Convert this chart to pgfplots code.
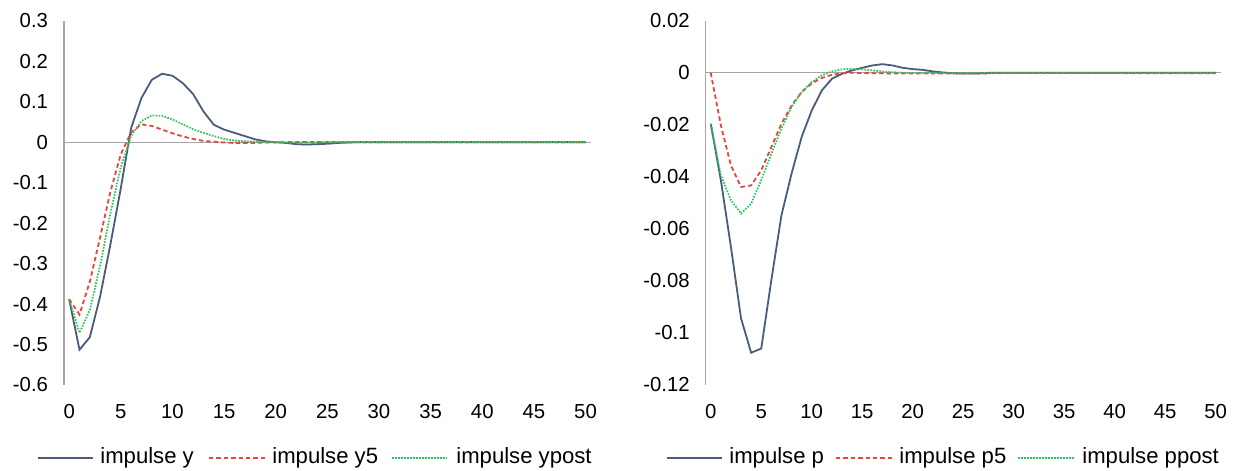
\documentclass[border=0pt]{standalone}
\usepackage{fontspec}
\setmainfont{Liberation Sans}
\usepackage{pgfplots}
\usepackage{pgfplotstable}
\pgfplotsset{compat=1.18}

\definecolor{cY}{HTML}{4B5B7A}
\definecolor{cR}{HTML}{E8443C}
\definecolor{cG}{HTML}{2CC463}
\definecolor{axgray}{HTML}{A6A6A6}

% left panel: t, y, y5, ypost
\pgfplotstableread{
t  y       y5      ypost
0  -0.388  -0.388  -0.388
1  -0.513  -0.426  -0.471
2  -0.482  -0.345  -0.415
3  -0.381  -0.235  -0.305
4  -0.252  -0.122  -0.175
5  -0.114  -0.030  -0.062
6   0.035   0.024   0.016
7   0.109   0.044   0.052
8   0.154   0.040   0.066
9   0.169   0.031   0.065
10  0.164   0.022   0.056
11  0.146   0.014   0.044
12  0.119   0.008   0.032
13  0.076   0.003   0.023
14  0.043   0.001   0.015
15  0.031  -0.001   0.008
16  0.023  -0.002   0.004
17  0.015  -0.002   0.002
18  0.007  -0.002   0.001
19  0.002  -0.001   0.000
20  0.000  -0.001   0.000
21 -0.002   0.000  -0.001
22 -0.005   0.000  -0.001
23 -0.006   0.000  -0.001
24 -0.005   0.000  -0.001
25 -0.004   0.000   0.000
26 -0.002   0.000   0.000
27 -0.001   0.000   0.000
28  0.000   0.000   0.000
30  0.000   0.000   0.000
35  0.000   0.000   0.000
40  0.000   0.000   0.000
45  0.000   0.000   0.000
50  0.000   0.000   0.000
}\leftdata

% right panel: t, p, p5, ppost
\pgfplotstableread{
t  p        p5       ppost
0  -0.0196   0.0000  -0.0196
1  -0.0413  -0.0202  -0.0394
2  -0.0670  -0.0356  -0.0490
3  -0.0944  -0.0439  -0.0541
4  -0.1076  -0.0433  -0.0503
5  -0.1060  -0.0375  -0.0413
6  -0.0797  -0.0286  -0.0311
7  -0.0548  -0.0196  -0.0215
8  -0.0388  -0.0126  -0.0132
9  -0.0247  -0.0074  -0.0074
10 -0.0145  -0.0041  -0.0036
11 -0.0068  -0.0020  -0.0010
12 -0.0023  -0.0008   0.0005
13 -0.0004  -0.0002   0.0013
14  0.0009   0.0000   0.0015
15  0.0019  -0.0001   0.0013
16  0.0028  -0.0002   0.0009
17  0.0033  -0.0002   0.0005
18  0.0028  -0.0003   0.0002
19  0.0019  -0.0003   0.0000
20  0.0014  -0.0003  -0.0001
21  0.0011  -0.0003  -0.0001
22  0.0005  -0.0003  -0.0001
23  0.0001  -0.0003  -0.0001
24 -0.0002  -0.0003  -0.0001
25 -0.0003  -0.0003  -0.0001
26 -0.0003  -0.0003   0.0000
27 -0.0002  -0.0003   0.0000
28  0.0000  -0.0002   0.0000
30  0.0000  -0.0001   0.0000
35  0.0000  -0.0001   0.0000
40  0.0000  -0.0001   0.0000
42  0.0000  -0.0002   0.0000
45  0.0000  -0.0002   0.0000
50  0.0000  -0.0002   0.0000
}\rightdata

\tikzset{
  sY/.style={draw=cY, line width=0.9bp},
  sR/.style={draw=cR, line width=0.9bp, dash pattern=on 2.2bp off 1.5bp},
  sG/.style={draw=cG, line width=0.9bp, dash pattern=on 0.8bp off 0.7bp},
  legtext/.style={anchor=west, inner sep=0pt, font=\fontsize{11.1}{13}\selectfont},
}

\pgfplotsset{
  panel/.style={
    scale only axis,
    axis lines*=left,
    x axis line style={draw=none},
    y axis line style={axgray, line width=0.6bp},
    xmin=-0.5, xmax=50.5,
    xtick={0,5,...,50},
    xtick style={draw=none},
    ytick style={draw=none},
    scaled y ticks=false,
    tick label style={font=\fontsize{10.2}{12}\selectfont, /pgf/number format/assume math mode=true},
    yticklabel style={/pgf/number format/fixed, /pgf/number format/precision=2, xshift=-4.5bp},
    xticklabel style={anchor=base, yshift=-16.8bp},
    clip=false,
  },
}

\begin{document}
\begin{tikzpicture}
\path[use as bounding box] (0,0) rectangle (622bp,235.5bp);

\begin{axis}[panel,
  at={(32bp,43bp)}, anchor=south west,
  width=263.35bp, height=182.15bp,
  ymin=-0.6, ymax=0.3,
  ytick={-0.6,-0.5,-0.4,-0.3,-0.2,-0.1,0,0.1,0.2,0.3},
]
\addplot[forget plot, axgray, line width=0.6bp] coordinates {(-0.5,0) (50.5,0)};
\addplot[sY] table[x=t, y=y] {\leftdata};
\addplot[sR] table[x=t, y=y5] {\leftdata};
\addplot[sG] table[x=t, y=ypost] {\leftdata};
\end{axis}

\begin{axis}[panel,
  at={(352.85bp,43bp)}, anchor=south west,
  width=257.5bp, height=182.15bp,
  ymin=-0.12, ymax=0.02,
  ytick={-0.12,-0.1,-0.08,-0.06,-0.04,-0.02,0,0.02},
]
\addplot[forget plot, axgray, line width=0.6bp] coordinates {(-0.5,0) (50.5,0)};
\addplot[sY] table[x=t, y=p] {\rightdata};
\addplot[sR] table[x=t, y=p5] {\rightdata};
\addplot[sG] table[x=t, y=ppost] {\rightdata};
\end{axis}

% legends (drawn below each panel)
\draw[sY] (19bp,6.65bp) -- (46.5bp,6.65bp);
\node[legtext] at (50bp,6.65bp) {impulse y};
\draw[sR] (104.5bp,6.65bp) -- (133bp,6.65bp);
\node[legtext] at (136bp,6.65bp) {impulse y5};
\draw[sG] (196bp,6.65bp) -- (223.5bp,6.65bp);
\node[legtext] at (228bp,6.65bp) {impulse ypost};

\draw[sY] (333.5bp,6.65bp) -- (361bp,6.65bp);
\node[legtext] at (364.5bp,6.65bp) {impulse p};
\draw[sR] (418bp,6.65bp) -- (446bp,6.65bp);
\node[legtext] at (449.5bp,6.65bp) {impulse p5};
\draw[sG] (509bp,6.65bp) -- (537.5bp,6.65bp);
\node[legtext] at (541bp,6.65bp) {impulse ppost};
\end{tikzpicture}
\end{document}
